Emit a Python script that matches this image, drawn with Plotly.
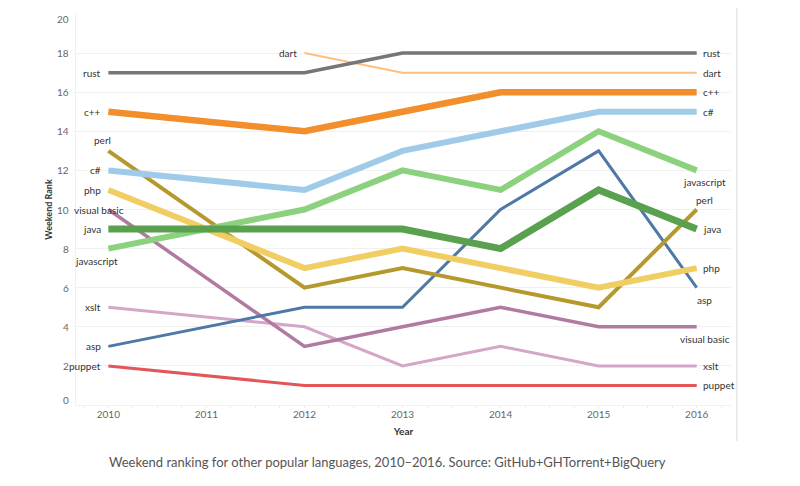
import plotly.graph_objects as go

years = [2010, 2012, 2013, 2014, 2015, 2016]
dart_years = [2012, 2013, 2014, 2015, 2016]

rust = [17, 17, 18, 18, 18, 18]
dart = [18, 17, 17, 17, 17]
cpp = [15, 14, 15, 16, 16, 16]
csharp = [12, 11, 13, 14, 15, 15]
javascript = [8, 10, 12, 11, 14, 12]
perl = [13, 6, 7, 6, 5, 10]
php = [11, 7, 8, 7, 6, 7]
java = [9, 9, 9, 8, 11, 9]
visual_basic = [10, 3, 4, 5, 4, 4]
xslt = [5, 4, 2, 3, 2, 2]
asp = [3, 5, 5, 10, 13, 6]
puppet = [2, 1, 1, 1, 1, 1]

tick_years = [2010, 2011, 2012, 2013, 2014, 2015, 2016]
y_ticks = [0, 2, 4, 6, 8, 10, 12, 14, 16, 18, 20]

# name, x, y, color, width, start label pos, end label pos
series = [
    ("puppet", years, puppet, "#E15759", 3, "left", "right"),
    ("xslt", years, xslt, "#D4A6C8", 3, "left", "right"),
    ("visual basic", years, visual_basic, "#B07AA1", 3.5, "vb", "below"),
    ("asp", years, asp, "#4E79A7", 3, "left", "below"),
    ("perl", years, perl, "#B6992D", 4, "above", "above"),
    ("php", years, php, "#F1CE63", 6, "left", "right"),
    ("javascript", years, javascript, "#8CD17D", 6, "js", "below"),
    ("java", years, java, "#59A14F", 7, "left", "right"),
    ("c#", years, csharp, "#A0CBE8", 6, "left", "right"),
    ("c++", years, cpp, "#F28E2B", 6.5, "left", "right"),
    ("dart", dart_years, dart, "#FFBE7D", 2, "left", "right"),
    ("rust", years, rust, "#767676", 3.5, "left", "right"),
]

fig = go.Figure()
annotations = []
lab_font = dict(family="Lato, 'Open Sans', sans-serif", size=10, color="#333333")

for name, xs, ys, color, w, spos, epos in series:
    fig.add_trace(go.Scatter(x=xs, y=ys, mode="lines", name=name,
                             line=dict(color=color, width=w), showlegend=False,
                             hoverinfo="skip"))
    # start label
    if spos == "left":
        annotations.append(dict(x=xs[0], y=ys[0], text=name, showarrow=False,
                                xanchor="right", yanchor="middle", xshift=-5, font=lab_font))
    elif spos == "above":
        annotations.append(dict(x=xs[0], y=ys[0], text=name, showarrow=False,
                                xanchor="center", yanchor="bottom", xshift=-6, yshift=3, font=lab_font))
    elif spos == "vb":
        annotations.append(dict(x=xs[0], y=ys[0], text=name, showarrow=False,
                                xanchor="center", yanchor="middle", xshift=-9, font=lab_font))
    elif spos == "js":
        annotations.append(dict(x=xs[0], y=ys[0], text=name, showarrow=False,
                                xanchor="center", yanchor="top", xshift=-12, yshift=-4, font=lab_font))
    # end label
    if epos == "right":
        annotations.append(dict(x=xs[-1], y=ys[-1], text=name, showarrow=False,
                                xanchor="left", yanchor="middle", xshift=4, font=lab_font))
    elif epos == "below":
        annotations.append(dict(x=xs[-1], y=ys[-1], text=name, showarrow=False,
                                xanchor="center", yanchor="top", xshift=8, yshift=-4, font=lab_font))
    elif epos == "above":
        annotations.append(dict(x=xs[-1], y=ys[-1], text=name, showarrow=False,
                                xanchor="center", yanchor="bottom", xshift=8, yshift=2, font=lab_font))

# y tick labels (kept inside the axis span at the ends, as in the original)
for t in y_ticks:
    shift = -5 if t == max(y_ticks) else (5 if t == min(y_ticks) else 0)
    annotations.append(dict(x=0, xref="paper", y=t, yref="y", text=str(t), showarrow=False,
                            xanchor="right", yanchor="middle", xshift=-5, yshift=shift,
                            font=dict(family="Lato, 'Open Sans', sans-serif", size=10, color="#666666")))

annotations.append(dict(
    x=0.5, xref="paper", y=-0.146, yref="paper", xshift=-16,
    text="Weekend ranking for other popular languages, 2010\u20132016. Source: GitHub+GHTorrent+BigQuery",
    showarrow=False, xanchor="center", yanchor="middle",
    font=dict(family="Lato, 'Open Sans', sans-serif", size=13, color="#555555")))

fig.update_layout(
    template="none",
    width=800, height=486,
    margin=dict(l=68, r=77, t=6, b=89),
    paper_bgcolor="white", plot_bgcolor="white",
    font=dict(family="Lato, 'Open Sans', sans-serif", color="#666666"),
    annotations=annotations,
    shapes=[dict(type="line", xref="paper", yref="paper", x0=1.009, x1=1.009,
                 y0=-0.092, y1=1.017, line=dict(color="#d9d9d9", width=1))],
    xaxis=dict(range=[2009.67, 2016.35], tickvals=tick_years, automargin=False,
               ticktext=[str(t) for t in tick_years], showgrid=False, zeroline=False,
               showline=True, linecolor="#f0f0f0", ticks="", tickfont=dict(size=10, color="#666666"),
               title=dict(text="<b>Year</b>", font=dict(size=10, color="#333333"), standoff=8),
               minor=dict(ticks="outside", ticklen=2, tickcolor="#eeeeee", dtick=0.25, showgrid=False)),
    yaxis=dict(range=[0, 20], tickvals=y_ticks, showgrid=True, gridcolor="#f0f0f0", automargin=False,
               zeroline=False, showline=True, linecolor="#f0f0f0", ticks="", showticklabels=False,
               title=dict(text="<b>Weekend Rank</b>", font=dict(size=9, color="#333333"), standoff=20)),
)

fig.write_html("out.html")
